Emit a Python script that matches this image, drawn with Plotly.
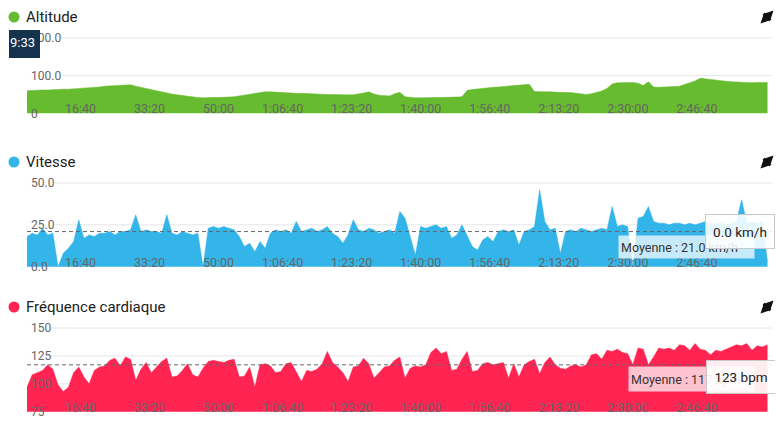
import plotly.graph_objects as go

# page geometry (the page body has an 8px margin, the figure is shifted by it)
PAGE_W, PAGE_H = 783, 434
OFF = 8
W, H = PAGE_W - OFF, PAGE_H - OFF
AREA_LEFT, AREA_RIGHT = 27, 772      # page px
AREA_TOP, AREA_BOT = 26, 426         # page px
ML, MR = AREA_LEFT - OFF, PAGE_W - AREA_RIGHT
MT, MB = AREA_TOP - OFF, PAGE_H - AREA_BOT
PW = AREA_RIGHT - AREA_LEFT
PH = AREA_BOT - AREA_TOP


def px_x(px):
    return (px - AREA_LEFT) / PW


def px_y(py):
    return (AREA_BOT - py) / PH


# ---------------- data ----------------
sample_step_s = 75

altitude = [60, 61, 61, 62, 62, 63, 63, 64, 64, 65, 66, 66, 67, 68, 70, 72, 73, 74, 74, 75,
            76, 72, 69, 65, 62, 59, 56, 54, 51, 49, 47, 44, 43, 42, 41, 41, 42, 42, 43, 43,
            44, 46, 48, 51, 54, 56, 57, 57, 56, 55, 54, 54, 53, 53, 52, 52, 51, 51, 50, 50,
            49, 49, 49, 49, 51, 54, 57, 51, 48, 47, 46, 52, 56, 44, 42, 41, 41, 41, 42, 42,
            42, 43, 43, 43, 44, 61, 63, 65, 66, 67, 69, 70, 71, 72, 73, 75, 76, 77, 58, 57,
            57, 57, 56, 56, 55, 55, 54, 53, 50, 52, 55, 59, 66, 78, 81, 82, 81, 82, 80, 74,
            84, 70, 69, 69, 70, 71, 72, 76, 80, 86, 93, 91, 90, 88, 87, 85, 84, 83, 83, 82,
            81, 82, 81, 82]

speed = [18, 20, 19, 23, 19, 20, 0, 8, 11, 15, 28, 17, 19, 18, 20, 20, 21, 19, 21, 21,
         22, 31, 21, 22, 21, 21, 20, 31, 20, 19, 21, 20, 19, 20, 0, 23, 24, 23, 24, 23,
         22, 18, 12, 14, 9, 15, 11, 20, 22, 21, 22, 20, 27, 21, 22, 23, 21, 22, 24, 20,
         18, 14, 19, 28, 22, 21, 23, 22, 20, 21, 22, 20, 33, 29, 18, 7, 24, 23, 24, 25,
         23, 24, 17, 19, 25, 18, 12, 10, 16, 18, 15, 21, 22, 21, 22, 13, 21, 22, 24, 46,
         27, 22, 23, 8, 21, 22, 21, 23, 22, 21, 22, 23, 22, 36, 24, 25, 24, 0, 29, 30,
         36, 27, 26, 26, 25, 26, 26, 25, 26, 25, 26, 27, 25, 26, 26, 25, 26, 27, 40, 26,
         27, 26, 27, 3]

heart_rate = [97, 108, 110, 112, 117, 113, 99, 93, 97, 110, 115, 106, 100, 112, 115, 116, 121, 123, 116, 124,
              122, 103, 113, 119, 110, 115, 120, 123, 106, 107, 112, 118, 108, 106, 114, 120, 121, 120, 119, 121,
              122, 106, 107, 115, 97, 117, 118, 116, 110, 111, 118, 119, 110, 102, 112, 111, 113, 118, 129, 119,
              115, 110, 102, 115, 116, 123, 118, 105, 110, 115, 116, 121, 124, 105, 114, 116, 115, 117, 128, 132,
              127, 129, 112, 113, 122, 129, 111, 112, 118, 119, 117, 118, 119, 105, 118, 106, 117, 120, 122, 109,
              119, 124, 117, 114, 113, 116, 117, 115, 117, 126, 127, 122, 130, 129, 131, 128, 127, 117, 132, 131,
              117, 124, 132, 131, 132, 130, 135, 134, 130, 136, 131, 130, 126, 130, 129, 131, 133, 135, 134, 136,
              130, 134, 133, 135]

time_s = [i * sample_step_s for i in range(len(speed))]

x_range = [0, 10790]
x_tickvals = [1000, 2000, 3000, 4000, 5000, 6000, 7000, 8000, 9000, 10000]
x_ticktext = ["16:40", "33:20", "50:00", "1:06:40", "1:23:20", "1:40:00",
              "1:56:40", "2:13:20", "2:30:00", "2:46:40"]

alt_range = [0, 200]
alt_ticks = [0, 100, 200]
alt_ticktext = ["0", "100.0", "200.0"]

spd_range = [0, 50]
spd_ticks = [0, 25, 50]
spd_ticktext = ["0.0", "25.0", "50.0"]

hr_range = [75, 150]
hr_ticks = [75, 100, 125, 150]
hr_ticktext = ["75", "100", "125", "150"]

speed_avg = 21.0
hr_avg = 117

titles = ["Altitude", "Vitesse", "Fréquence cardiaque"]
colors = ["#66bb2e", "#33b5e9", "#ff2452"]

FONT = "Roboto"
TEXT_DARK = "#222222"
TICK_COL = "#666666"

series = [altitude, speed, heart_rate]
yranges = [alt_range, spd_range, hr_range]
yticks = [alt_ticks, spd_ticks, hr_ticks]
yticktexts = [alt_ticktext, spd_ticktext, hr_ticktext]

# panel pixel positions on the page (top gridline, baseline)
panels = [(38, 113.3), (183, 266.7), (328, 411.7)]
EXT = 10  # room for the edge tick labels
grid_start_px = [61, 55, 50]

fig = go.Figure()
for k, (vals, col) in enumerate(zip(series, colors)):
    sfx = "" if k == 0 else str(k + 1)
    base = yranges[k][0]
    fig.add_trace(go.Scatter(
        x=[time_s[0], time_s[len(vals) - 1]], y=[base, base], mode="lines",
        line=dict(width=0, color=col), xaxis="x" + sfx, yaxis="y" + sfx,
        showlegend=False, hoverinfo="skip"))
    fig.add_trace(go.Scatter(
        x=time_s[:len(vals)], y=vals, mode="lines", fill="tonexty",
        fillcolor=col, line=dict(color=col, width=0.5),
        xaxis="x" + sfx, yaxis="y" + sfx, showlegend=False, hoverinfo="skip"))

layout = dict(
    width=W, height=H, autosize=False,
    margin=dict(l=ML, r=MR, t=MT, b=MB, pad=0),
    paper_bgcolor="white", plot_bgcolor="white",
    font=dict(family=FONT, color=TEXT_DARK),
    showlegend=False,
)

shapes = []
annotations = []
for k in range(3):
    sfx = "" if k == 0 else str(k + 1)
    top, bot = panels[k]
    vmin, vmax = yranges[k]
    per_px = (vmax - vmin) / (bot - top)
    rng = [vmin - EXT * per_px, vmax + EXT * per_px]
    dom = [max(0.0, px_y(bot + EXT)), min(1.0, px_y(top - EXT))]
    # x labels are drawn "outside" (below) an invisible axis line placed above the baseline
    layout["xaxis" + sfx] = dict(
        domain=[0, 1], range=x_range, anchor="free", position=px_y(bot - 13.5),
        side="bottom", tickvals=x_tickvals, ticktext=x_ticktext,
        ticklabelposition="outside left", ticks="",
        showgrid=False, zeroline=False, showline=False,
        tickfont=dict(family=FONT, size=12.5, color=TICK_COL),
        fixedrange=True)
    layout["yaxis" + sfx] = dict(
        domain=dom, range=rng, anchor="free", position=0,
        tickvals=yticks[k], ticktext=yticktexts[k],
        ticklabelposition="inside", ticks="",
        showgrid=False, zeroline=False, showline=False,
        tickfont=dict(family=FONT, size=12, color=TICK_COL),
        fixedrange=True)
    # grid lines (start just after the label)
    for v in yticks[k][1:]:
        shapes.append(dict(type="line", xref="x%s domain" % sfx, yref="y" + sfx,
                           x0=px_x(grid_start_px[k]), x1=1, y0=v, y1=v,
                           line=dict(color="#e6e6e6", width=1), layer="below"))
    # title + coloured dot
    ty = top - 21
    shapes.append(dict(type="circle", xref="paper", yref="paper",
                       x0=px_x(8.5), x1=px_x(19.5),
                       y0=px_y(ty + 5.5), y1=px_y(ty - 5.5),
                       fillcolor=colors[k], line=dict(width=0)))
    annotations.append(dict(text=titles[k], xref="paper", yref="paper",
                            x=px_x(24), y=px_y(ty), xanchor="left", yanchor="middle",
                            showarrow=False, font=dict(family=FONT, size=15, color=TEXT_DARK)))
    # expand icon: two diagonal arrows pointing outwards
    cy = ty
    annotations.append(dict(text="", xref="paper", yref="paper", x=px_x(773.5), y=px_y(cy - 6.5),
                            ax=-6, ay=6, showarrow=True, arrowhead=2, arrowsize=1.3,
                            arrowwidth=1.6, arrowcolor="#111", standoff=0, startstandoff=0))
    annotations.append(dict(text="", xref="paper", yref="paper", x=px_x(760.5), y=px_y(cy + 6.5),
                            ax=6, ay=-6, showarrow=True, arrowhead=2, arrowsize=1.3,
                            arrowwidth=1.6, arrowcolor="#111", standoff=0, startstandoff=0))

# average lines
shapes.append(dict(type="line", xref="x2 domain", yref="y2", x0=0, x1=1,
                   y0=speed_avg, y1=speed_avg,
                   line=dict(color="#666", width=1, dash="4px,3px"), layer="above"))
shapes.append(dict(type="line", xref="x3 domain", yref="y3", x0=0, x1=1,
                   y0=hr_avg, y1=hr_avg,
                   line=dict(color="#666", width=1, dash="4px,3px"), layer="above"))

# average labels
annotations.append(dict(text="Moyenne : %.1f km/h" % speed_avg, xref="paper", yref="paper",
                        x=px_x(618), y=px_y(247), xanchor="left", yanchor="middle",
                        showarrow=False, bgcolor="rgba(255,255,255,0.72)",
                        width=131, height=18, borderpad=2, align="left",
                        font=dict(family=FONT, size=12.5, color="#333")))
annotations.append(dict(text="Moyenne : %d bpm" % hr_avg, xref="paper", yref="paper",
                        x=px_x(628), y=px_y(379), xanchor="left", yanchor="middle",
                        showarrow=False, bgcolor="rgba(255,255,255,0.72)",
                        width=121, height=20, borderpad=2, align="left",
                        font=dict(family=FONT, size=12.5, color="#333")))

# hover tooltips
annotations.append(dict(text="0.0 km/h", xref="paper", yref="paper",
                        x=px_x(740), y=px_y(231.5), xanchor="center", yanchor="middle",
                        showarrow=False, bgcolor="rgba(255,255,255,0.88)", bordercolor="#c8c8c8",
                        borderwidth=1, width=64, height=29, borderpad=2,
                        font=dict(family=FONT, size=13.5, color="#222")))
annotations.append(dict(text="123 bpm", xref="paper", yref="paper",
                        x=px_x(741), y=px_y(377), xanchor="center", yanchor="middle",
                        showarrow=False, bgcolor="rgba(255,255,255,0.92)", bordercolor="#c8c8c8",
                        borderwidth=1, width=64, height=28, borderpad=2,
                        font=dict(family=FONT, size=13.5, color="#222")))

# clipped dark time tooltip at top-left
shapes.append(dict(type="rect", xref="paper", yref="paper",
                   x0=px_x(9), x1=px_x(40), y0=px_y(58), y1=px_y(30),
                   fillcolor="#15324f", line=dict(width=0), layer="above"))
annotations.append(dict(text="9:33", xref="paper", yref="paper",
                        x=px_x(8), y=px_y(43), xanchor="left", yanchor="middle",
                        showarrow=False, font=dict(family=FONT, size=13, color="white")))

layout["shapes"] = shapes
layout["annotations"] = annotations
fig.update_layout(**layout)

fig.write_html("out.html")
